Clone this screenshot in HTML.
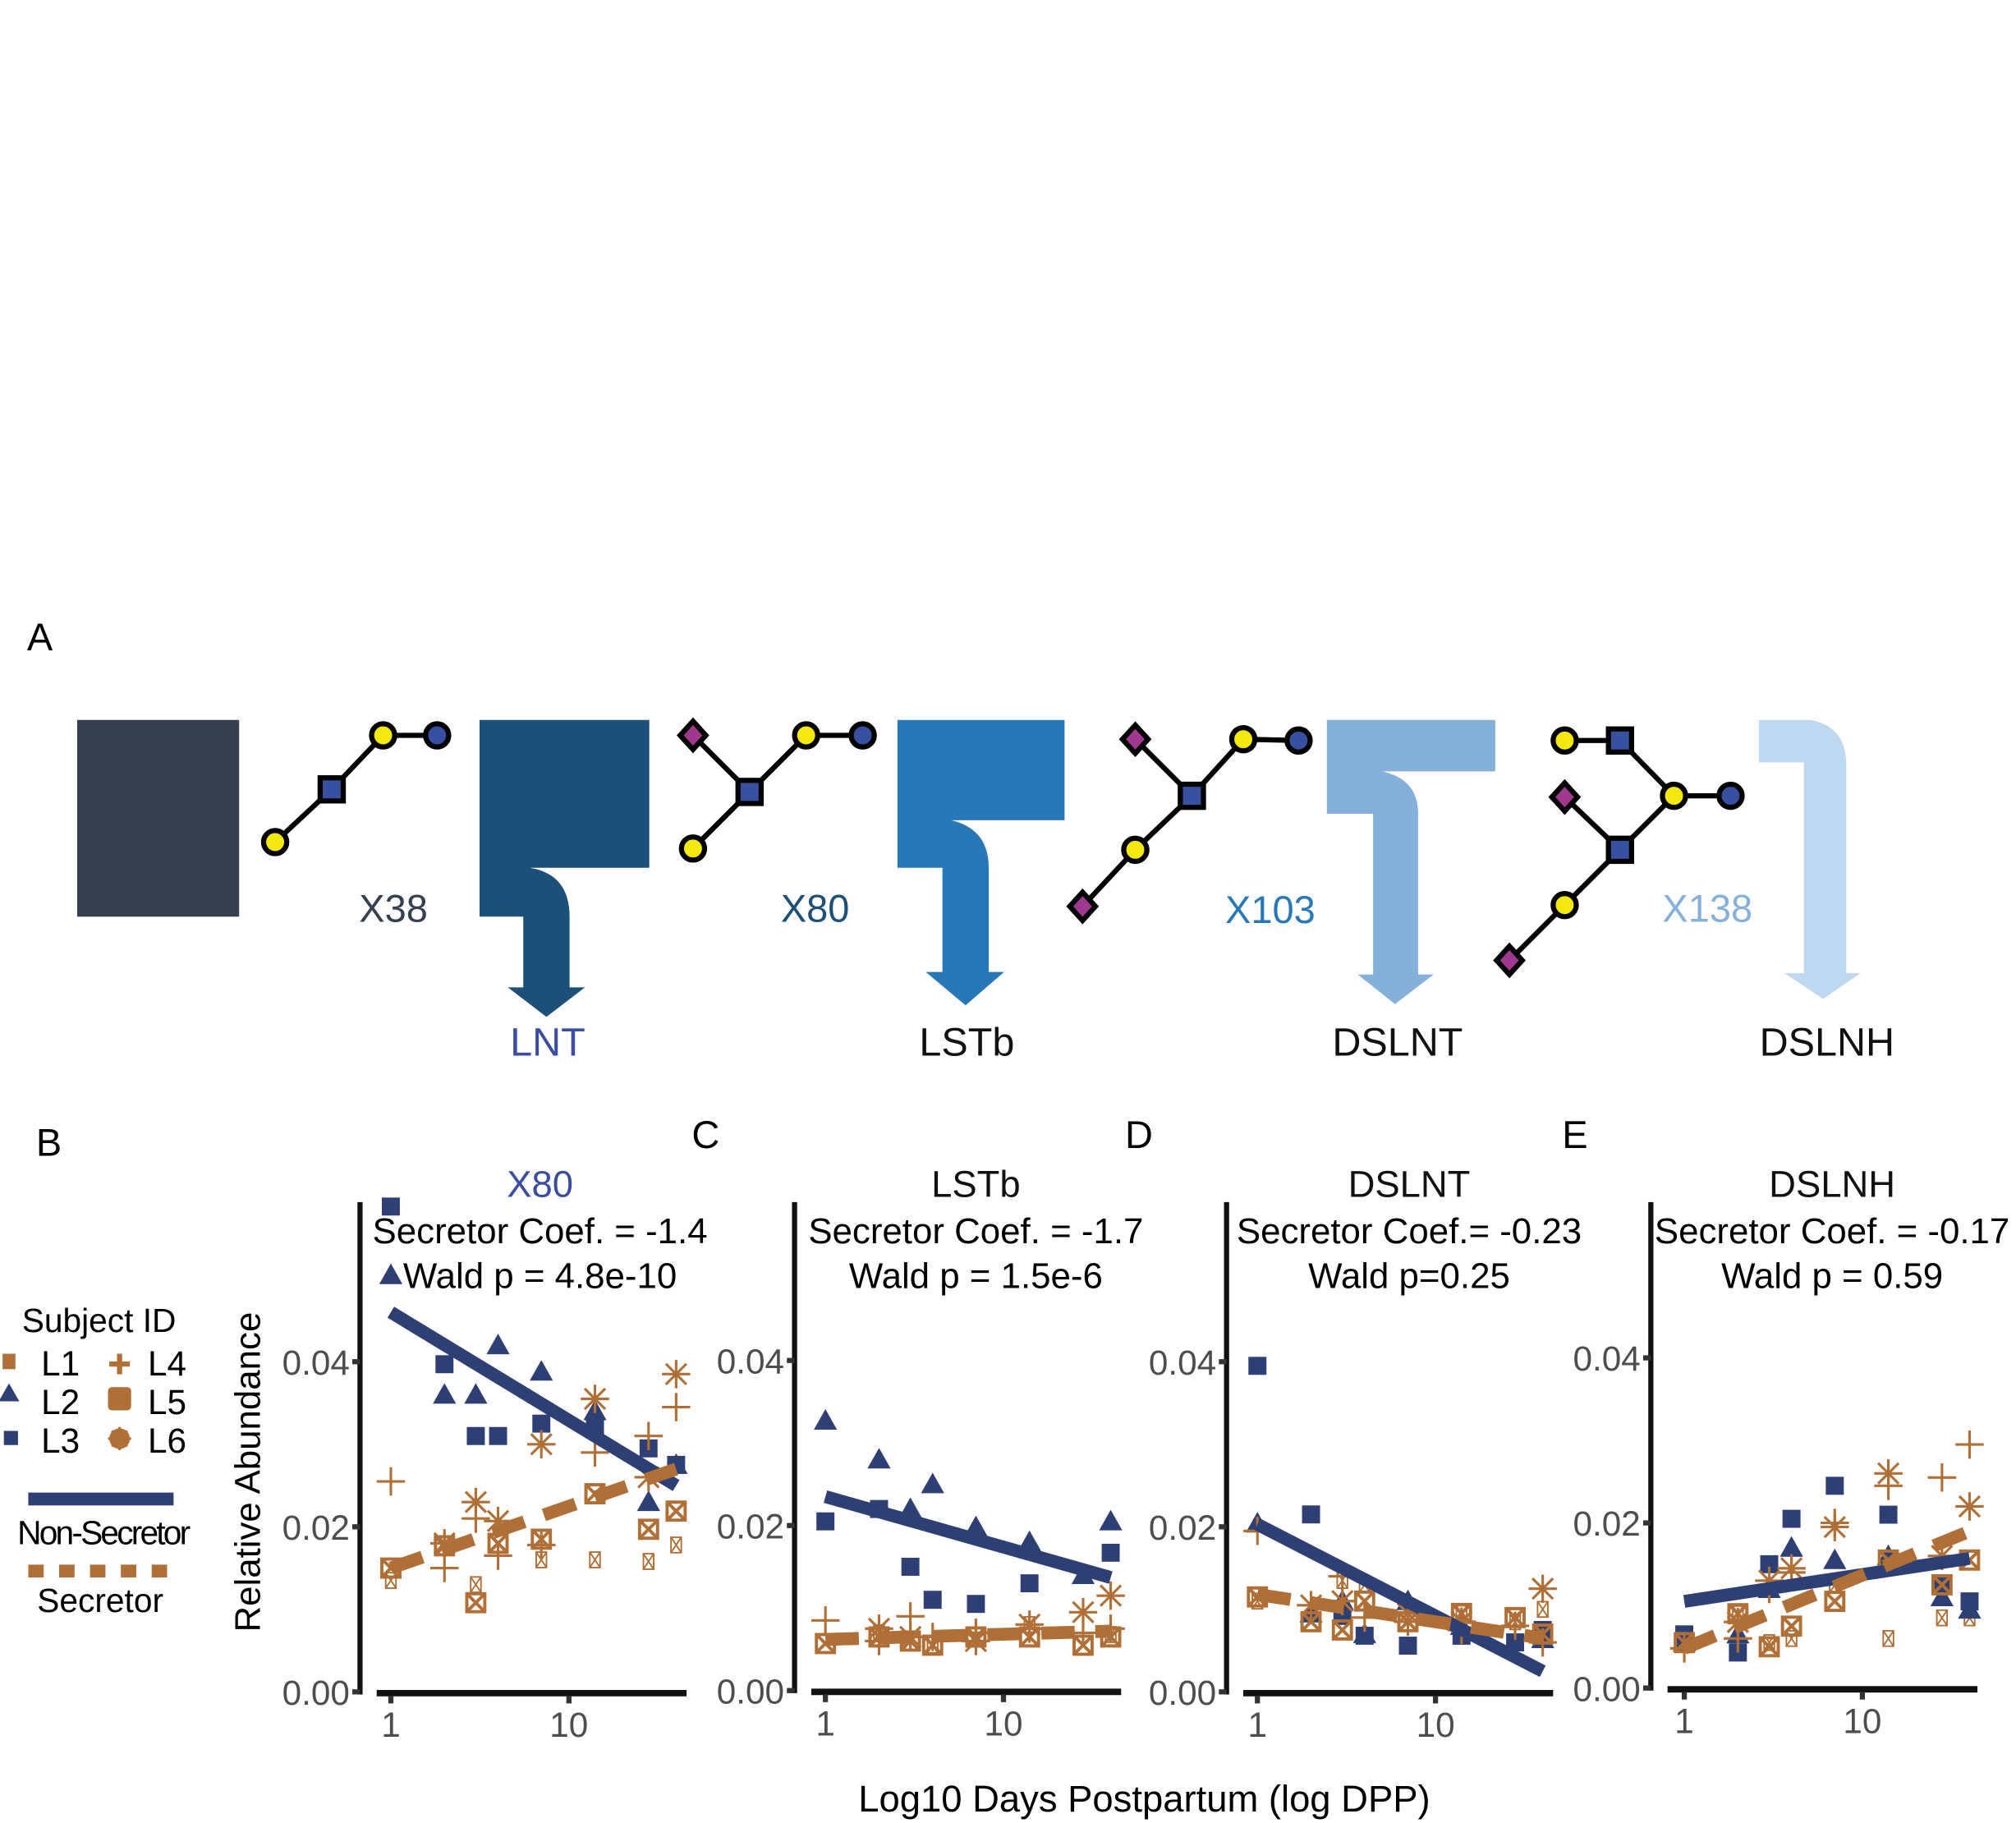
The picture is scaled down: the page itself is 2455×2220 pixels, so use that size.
<!DOCTYPE html>
<html><head><meta charset="utf-8">
<style>
html,body{margin:0;padding:0;background:#fff;}
svg{display:block;font-family:"Liberation Sans",sans-serif;}
</style></head>
<body>
<svg id="fig" width="2455" height="2220" viewBox="0 0 1568 1418" preserveAspectRatio="none" xmlns="http://www.w3.org/2000/svg">
<rect x="0" y="0" width="1568" height="1418" fill="#fff"/>
<g>
<text x="21" y="506" font-size="30">A</text>
<rect x="60" y="560" width="126" height="153" fill="#35404f"/>
<g stroke="#000" stroke-width="4">
<line x1="214" y1="655" x2="258" y2="614"/><line x1="258" y1="614" x2="298" y2="572"/><line x1="298" y1="572" x2="340" y2="572"/>
<circle cx="214" cy="655" r="9" fill="#f5e80f"/><rect x="249" y="605" width="18" height="18" fill="#3850a0"/>
<circle cx="298" cy="572" r="9" fill="#f5e80f"/><circle cx="340" cy="572" r="9" fill="#3850a0"/>
</g>
<text x="306" y="717" font-size="30" fill="#35404f" text-anchor="middle">X38</text>
<path fill="#1c5079" d="M373,560 H505 V675 H412 Q443,680 443,713 V768 H455 L425,791 L395,768 H407 V713 H373 Z"/>
<text x="426" y="821" font-size="31" fill="#3a4ea0" text-anchor="middle">LNT</text>
<g stroke="#000" stroke-width="4">
<line x1="539" y1="572" x2="583" y2="616"/><line x1="539" y1="660" x2="583" y2="616"/><line x1="583" y1="616" x2="627" y2="572"/><line x1="627" y1="572" x2="671" y2="572"/>
<polygon points="539,561 549,572 539,583 529,572" fill="#a03890"/>
<circle cx="539" cy="660" r="9" fill="#f5e80f"/><rect x="574" y="607" width="18" height="18" fill="#3850a0"/>
<circle cx="627" cy="572" r="9" fill="#f5e80f"/><circle cx="671" cy="572" r="9" fill="#3850a0"/>
</g>
<text x="634" y="717" font-size="30" fill="#1c5079" text-anchor="middle">X80</text>
<path fill="#2878b8" d="M698,560 H828 V638 H740 Q769,645 769,675 V756 H781 L751,782 L720,756 H733 V675 H698 Z"/>
<text x="752" y="821" font-size="31" fill="#111" text-anchor="middle">LSTb</text>
<g stroke="#000" stroke-width="4">
<line x1="883" y1="575" x2="927" y2="619"/><line x1="927" y1="619" x2="967" y2="575"/><line x1="967" y1="575" x2="1010" y2="576"/><line x1="927" y1="619" x2="883" y2="661"/><line x1="883" y1="661" x2="842" y2="705"/>
<polygon points="883,564 893,575 883,586 873,575" fill="#a03890"/>
<polygon points="842,694 852,705 842,716 832,705" fill="#a03890"/>
<circle cx="883" cy="661" r="9" fill="#f5e80f"/><rect x="918" y="610" width="18" height="18" fill="#3850a0"/>
<circle cx="967" cy="575" r="9" fill="#f5e80f"/><circle cx="1010" cy="576" r="9" fill="#3850a0"/>
</g>
<text x="988" y="718" font-size="30" fill="#2878b8" text-anchor="middle">X103</text>
<path fill="#84b0d9" d="M1032,560 H1163 V600 H1075 Q1103,606 1103,633 V758 H1115 L1085,781 L1056,758 H1068 V633 H1032 Z"/>
<text x="1087" y="821" font-size="31" fill="#111" text-anchor="middle">DSLNT</text>
<g stroke="#000" stroke-width="4">
<line x1="1217" y1="576" x2="1260" y2="576"/><line x1="1260" y1="576" x2="1302" y2="619"/><line x1="1302" y1="619" x2="1346" y2="619"/><line x1="1217" y1="620" x2="1260" y2="661"/><line x1="1260" y1="661" x2="1302" y2="619"/><line x1="1260" y1="661" x2="1217" y2="704"/><line x1="1217" y1="704" x2="1174" y2="747"/>
<circle cx="1217" cy="576" r="9" fill="#f5e80f"/><rect x="1251" y="567" width="18" height="18" fill="#3850a0"/>
<circle cx="1302" cy="619" r="9" fill="#f5e80f"/><circle cx="1346" cy="619" r="9" fill="#3850a0"/>
<polygon points="1217,609 1227,620 1217,631 1207,620" fill="#a03890"/>
<rect x="1251" y="652" width="18" height="18" fill="#3850a0"/>
<circle cx="1217" cy="704" r="9" fill="#f5e80f"/>
<polygon points="1174,736 1184,747 1174,758 1164,747" fill="#a03890"/>
</g>
<text x="1328" y="717" font-size="30" fill="#84b0d9" text-anchor="middle">X138</text>
<path fill="#bdd8f0" d="M1368,560 H1408 Q1436,565 1436,595 V757 H1447 L1418,777 L1388,757 H1403 V593 H1368 Z"/>
<text x="1421" y="821" font-size="31" fill="#111" text-anchor="middle">DSLNH</text>
</g>
<text x="28" y="899" font-size="30">B</text>
<text x="538" y="893" font-size="30">C</text>
<text x="875" y="893" font-size="30">D</text>
<text x="1215" y="893" font-size="30">E</text>
<g font-size="27">
<text x="77" y="1036" text-anchor="middle" font-size="26">Subject ID</text>
<g><rect x="2" y="1053" width="10" height="12" fill="#b06f37"/><text x="32" y="1070">L1</text></g>
<g><polygon points="7,1076 15,1090 -1,1090" fill="#2e3f73"/><text x="32" y="1100">L2</text></g>
<g><rect x="3" y="1113" width="11" height="11" fill="#2e3f73"/><text x="32" y="1130">L3</text></g>
<g><path d="M85,1061 H101 M93,1053 V1069" stroke="#b06f37" stroke-width="4"/><text x="115" y="1070">L4</text></g>
<g><rect x="84" y="1079" width="18" height="18" rx="3" fill="#b06f37"/><text x="115" y="1100">L5</text></g>
<g><circle cx="93" cy="1119" r="8" fill="#b06f37"/><path d="M84,1119 H102 M93,1110 V1128 M87,1113 L99,1125 M99,1113 L87,1125" stroke="#b06f37" stroke-width="2"/><text x="115" y="1130">L6</text></g>
<line x1="22" y1="1166" x2="135" y2="1166" stroke="#2e3f73" stroke-width="10"/>
<text x="80" y="1201" text-anchor="middle" font-size="26" letter-spacing="-1.8">Non-Secretor</text>
<line x1="22" y1="1222" x2="135" y2="1222" stroke="#b06f37" stroke-width="10" stroke-dasharray="12,12"/>
<text x="78" y="1254" text-anchor="middle" font-size="26">Secretor</text>
</g>
<text transform="translate(202,1145) rotate(-90)" font-size="28" text-anchor="middle">Relative Abundance</text>
<text x="890" y="1409" font-size="29" text-anchor="middle">Log10 Days Postpartum (log DPP)</text>
<g id="charts"></g>
</svg>
<script>
const days = [1, 2, 3, 4, 7, 14, 28, 40];
const yTicks = [0, 0.02, 0.04];
const yTickLabels = ["0.00", "0.02", "0.04"];
const xTicks = [1, 10];
const xTickLabels = ["1", "10"];
const titles = ["X80", "LSTb", "DSLNT", "DSLNH"];
const coefText = ["Secretor Coef. = -1.4", "Secretor Coef. = -1.7", "Secretor Coef.= -0.23", "Secretor Coef. = -0.17"];
const waldText = ["Wald p = 4.8e-10", "Wald p = 1.5e-6", "Wald p=0.25", "Wald p = 0.59"];

const bL1 = [0.0135, null, 0.013, null, 0.016, 0.016, 0.0158, 0.0178];
const bL2 = [0.0505, 0.036, 0.036, 0.042, 0.0388, 0.034, 0.023, 0.0275];
const bL3 = [0.0588, 0.0397, 0.031, 0.031, 0.0325, 0.032, 0.0295, 0.0275];
const bL4 = [0.0255, 0.015, 0.021, 0.0165, 0.0178, 0.029, 0.031, 0.0345];
const bL5 = [0.015, 0.0177, 0.0108, 0.018, 0.0185, 0.024, 0.0197, 0.0219];
const bL6 = [null, 0.018, 0.023, 0.0207, 0.030, 0.0355, 0.026, 0.0385];
const bNonSec = [0.046, 0.025];
const bSec = [0.015, 0.027];
const cL1 = [null, 0.007, null, 0.0055, null, 0.008, null, 0.0068];
const cL2 = [0.0327, 0.028, 0.022, 0.025, 0.0198, 0.018, 0.014, 0.0205];
const cL3 = [0.0205, 0.022, 0.015, 0.011, 0.0105, 0.013, null, 0.0167];
const cL4 = [0.0085, 0.006, 0.009, 0.0065, 0.007, 0.0075, 0.007, 0.0075];
const cL5 = [0.0057, 0.0065, 0.006, 0.0055, 0.0065, 0.0065, 0.0055, 0.0065];
const cL6 = [null, 0.0075, 0.0065, null, 0.006, 0.008, 0.0095, 0.0115];
const cNonSec = [0.0235, 0.0137];
const cSec = [0.0062, 0.0072];
const dL1 = [0.011, null, 0.0135, 0.013, null, 0.0095, 0.0085, 0.010];
const dL2 = [0.0204, 0.0095, 0.011, 0.007, 0.011, 0.008, null, 0.0064];
const dL3 = [0.0395, 0.0215, 0.0092, 0.0068, 0.0056, 0.0068, 0.006, 0.0075];
const dL4 = [0.0195, null, 0.014, 0.009, 0.0085, 0.0075, 0.008, 0.006];
const dL5 = [0.0115, 0.0085, 0.0075, 0.011, 0.0085, 0.0095, 0.009, 0.007];
const dL6 = [null, 0.0105, 0.011, null, 0.0095, 0.0085, null, 0.0125];
const dNonSec = [0.0203, 0.0025];
const dSec = [0.0118, 0.0065];
const eL1 = [null, 0.009, 0.0055, 0.006, 0.0125, 0.006, 0.0085, 0.0085];
const eL2 = [0.0055, 0.0065, 0.012, 0.017, 0.0155, 0.016, 0.011, 0.0095];
const eL3 = [0.0065, 0.0043, 0.015, 0.0205, 0.0245, 0.021, 0.0125, 0.0105];
const eL4 = [0.0048, 0.006, 0.012, 0.014, 0.020, 0.0245, 0.0255, 0.0295];
const eL5 = [0.0055, 0.009, 0.005, 0.0075, 0.0105, 0.0155, 0.0125, 0.0155];
const eL6 = [null, 0.008, 0.013, 0.0145, 0.0195, 0.026, 0.016, 0.022];
const eNonSec = [0.0105, 0.0157];
const eSec = [0.0048, 0.019];

const BLUE = "#2e3f73", ORANGE = "#b06f37", NS = "http://www.w3.org/2000/svg";
const layout = [
  {ax: 280, x1: 304, y0: 1316, cx: 420},
  {ax: 618, x1: 642, y0: 1315, cx: 759},
  {ax: 954, x1: 978, y0: 1316, cx: 1096},
  {ax: 1284, x1: 1310, y0: 1313, cx: 1425}
];
const seriesSets = [
  [bL1, bL2, bL3, bL4, bL5, bL6, bNonSec, bSec],
  [cL1, cL2, cL3, cL4, cL5, cL6, cNonSec, cSec],
  [dL1, dL2, dL3, dL4, dL5, dL6, dNonSec, dSec],
  [eL1, eL2, eL3, eL4, eL5, eL6, eNonSec, eSec]
];
const DEC = 138.5, PPU = 6420;
const root = document.getElementById('charts');
function mk(tag, attrs, parent) {
  const e = document.createElementNS(NS, tag);
  for (const k in attrs) e.setAttribute(k, attrs[k]);
  parent.appendChild(e);
  return e;
}
function marker(kind, x, y, g) {
  let e;
  if (kind === 'L3') { e = mk('rect', {x: x - 7, y: y - 7, width: 14, height: 14, fill: BLUE}, g); }
  else if (kind === 'L2') { e = mk('polygon', {points: `${x},${y-9} ${x+9},${y+7} ${x-9},${y+7}`, fill: BLUE}, g); }
  else if (kind === 'L4') { e = mk('path', {d: `M${x-11},${y} H${x+11} M${x},${y-11} V${y+11}`, stroke: ORANGE, 'stroke-width': 2, fill: 'none'}, g); }
  else if (kind === 'L6') { e = mk('path', {d: `M${x-11},${y} H${x+11} M${x},${y-11} V${y+11} M${x-8},${y-8} L${x+8},${y+8} M${x+8},${y-8} L${x-8},${y+8}`, stroke: ORANGE, 'stroke-width': 2, fill: 'none'}, g); }
  else if (kind === 'L5') { e = mk('path', {d: `M${x-7},${y-7} h14 v14 h-14 Z M${x-7},${y-7} L${x+7},${y+7} M${x+7},${y-7} L${x-7},${y+7}`, stroke: ORANGE, 'stroke-width': 2.5, fill: 'none'}, g); }
  else { e = mk('path', {d: `M${x-4},${y-6} h8 v12 h-8 Z M${x-4},${y-6} L${x+4},${y+6} M${x+4},${y-6} L${x-4},${y+6}`, stroke: ORANGE, 'stroke-width': 1.2, fill: 'none'}, g); }
  
  
}
layout.forEach((L, pi) => {
  const xs = d => L.x1 + Math.log10(d) * DEC;
  const ys = v => L.y0 - v * PPU;
  const g = mk('g', {}, root);
  
  
  const t = mk('text', {x: L.cx, y: 931, 'font-size': 29, 'text-anchor': 'middle', fill: pi === 0 ? '#3a4ea0' : '#111'}, g);
  t.textContent = titles[pi];
  
  
  const yl = mk('line', {x1: L.ax, y1: 935, x2: L.ax, y2: L.y0 + 2, stroke: '#111', 'stroke-width': 4}, g);
  
  
  const xl = mk('line', {x1: L.ax + 13, y1: L.y0 + 1, x2: L.ax + 254, y2: L.y0 + 1, stroke: '#111', 'stroke-width': 5}, g);
  
  
  yTicks.forEach((v, i) => {
    mk('line', {x1: L.ax - 6, y1: ys(v), x2: L.ax, y2: ys(v), stroke: '#333', 'stroke-width': 4}, g);
    const tl = mk('text', {x: L.ax - 8, y: ys(v) + 10, 'font-size': 27, 'text-anchor': 'end', fill: '#4d4d4d'}, g);
    tl.textContent = yTickLabels[i];
    
    
  });
  xTicks.forEach((d, i) => {
    mk('line', {x1: xs(d), y1: L.y0 + 3, x2: xs(d), y2: L.y0 + 9, stroke: '#333', 'stroke-width': 4}, g);
    const tl = mk('text', {x: xs(d), y: L.y0 + 35, 'font-size': 27, 'text-anchor': 'middle', fill: '#4d4d4d'}, g);
    tl.textContent = xTickLabels[i];
    
    
  });
  const S = seriesSets[pi];
  const kinds = ['L1', 'L2', 'L3', 'L4', 'L5', 'L6'];
  kinds.forEach((k, si) => {
    S[si].forEach((v, di) => { if (v !== null) marker(k, xs(days[di]), ys(v), g); });
  });
  const ns = mk('line', {x1: xs(days[0]), y1: ys(S[6][0]), x2: xs(days[7]), y2: ys(S[6][1]), stroke: BLUE, 'stroke-width': 10}, g);
  
  
  const sc = mk('line', {x1: xs(days[0]), y1: ys(S[7][0]), x2: xs(days[7]), y2: ys(S[7][1]), stroke: ORANGE, 'stroke-width': 10, 'stroke-dasharray': '26,16'}, g);
  
  
  const c1 = mk('text', {x: L.cx, y: 967, 'font-size': 28, 'text-anchor': 'middle', fill: '#000'}, g);
  c1.textContent = coefText[pi];
  
  
  const c2 = mk('text', {x: L.cx, y: 1002, 'font-size': 28, 'text-anchor': 'middle', fill: '#000'}, g);
  c2.textContent = waldText[pi];
  
  
});
</script>
</body></html>
